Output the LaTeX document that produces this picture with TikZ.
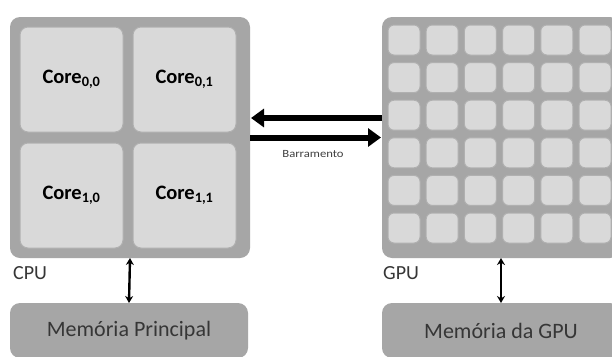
\documentclass[tikz,border=0pt]{standalone}
\usepackage{fontspec}
\setmainfont{Carlito}
\usetikzlibrary{arrows.meta}
\definecolor{chipgray}{HTML}{A6A6A6}
\definecolor{cellfill}{HTML}{D9D9D9}
\definecolor{cellline}{HTML}{B0B0B0}
\definecolor{memtext}{HTML}{363636}
\tikzset{
  chip/.style={draw=none, fill=chipgray, rounded corners=10pt, inner sep=0pt, outer sep=0pt, anchor=north west},
  corebox/.style={draw=cellline, line width=1pt, fill=cellfill, rounded corners=8pt, inner sep=0pt, outer sep=0pt,
    minimum width=103pt, minimum height=105pt, anchor=north west,
    font=\fontsize{20.5}{24}\selectfont\bfseries},
  gcell/.style={draw=cellline, line width=1pt, fill=cellfill, rounded corners=6pt, inner sep=0pt, outer sep=0pt,
    minimum width=32pt, minimum height=30pt, anchor=north west},
  membox/.style={draw=none, fill=chipgray, rounded corners=10pt, inner sep=0pt, outer sep=0pt,
    minimum width=238pt, minimum height=55pt, anchor=north west, text=memtext,
    font=\fontsize{22}{26}\selectfont},
  chiplabel/.style={anchor=base west, inner sep=0pt, text=memtext, font=\fontsize{20}{24}\selectfont},
  bus/.style={line width=6pt, -{Triangle[length=13pt, width=18pt]}, shorten >=1pt},
  memlink/.style={line width=2.4pt, {Stealth[length=7pt, width=8pt]}-{Stealth[length=7pt, width=8pt]}},
}
\begin{document}
\begin{tikzpicture}[x=1pt, y=-1pt]
\clip (0,0) rectangle (612,356);
\fill[white] (0,0) rectangle (612,356);

% CPU with its four cores
\node[chip, minimum width=240pt, minimum height=241pt] (cpu) at (10,17) {};
\node[corebox] (core00) at (20,27)  {Core\textsubscript{0,0}};
\node[corebox] (core01) at (133,27) {Core\textsubscript{0,1}};
\node[corebox] (core10) at (20,143) {Core\textsubscript{1,0}};
\node[corebox] (core11) at (133,143) {Core\textsubscript{1,1}};
\node[chiplabel] (cpulabel) at (13,279) {CPU};

% GPU with a 6x6 grid of cores
\node[chip, minimum width=238pt, minimum height=241pt] (gpu) at (382,17) {};
\foreach \i in {0,...,5}{
  \foreach \j in {0,...,5}{
    \node[gcell] (g-\i-\j) at ({388+38.2*\j},{25+37.6*\i}) {};
  }
}
\node[chiplabel] (gpulabel) at (383,279) {GPU};

% memories
\node[membox] (mem1) at (10,303) {Memória Principal};
\node[membox] (mem2) at (382,303) {Memória da GPU};

% bus between CPU and GPU
\draw[bus] ([yshift=19.5pt]gpu.west) -- ([yshift=19.5pt]cpu.east);
\draw[bus] (cpu.east) -- (gpu.west);
\node[font=\fontsize{11}{13}\selectfont, text=black!75, xscale=1.15] (buslabel) at (313,154) {Barramento};

% memory links
\draw[memlink] (cpu.south) -- (mem1.north);
\draw[memlink] (gpu.south) -- (mem2.north);
\end{tikzpicture}
\end{document}
